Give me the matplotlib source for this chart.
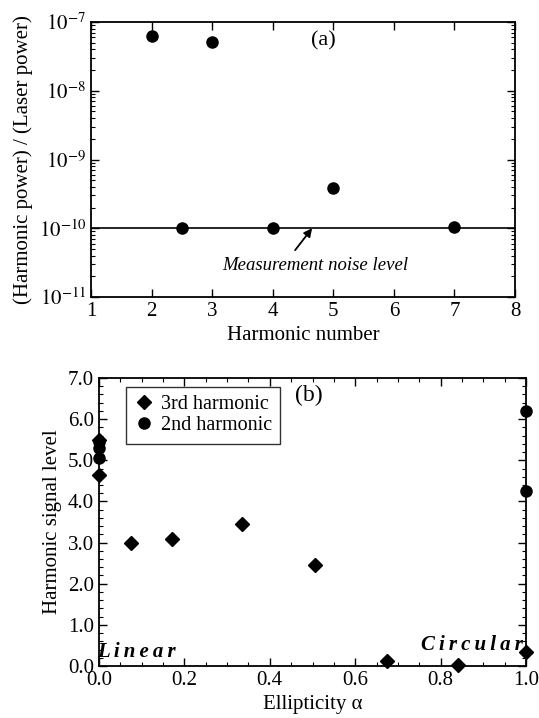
import matplotlib
matplotlib.use('Agg')
import matplotlib.pyplot as plt
from matplotlib.ticker import MultipleLocator, LogLocator, NullFormatter, FormatStrFormatter

plt.rcParams['font.family'] = ['Liberation Serif', 'DejaVu Serif']
plt.rcParams['mathtext.fontset'] = 'stix'

# panel (a): harmonic power ratio
harm_num = [2, 3, 2.5, 4, 5, 7]
harm_ratio = [6.3e-8, 5.2e-8, 1.0e-10, 1.0e-10, 3.8e-10, 1.05e-10]
noise_level = 1.0e-10

# panel (b): signal level vs ellipticity
ell_3rd = [0.0, 0.0, 0.075, 0.17, 0.335, 0.505, 0.675, 0.84, 1.0]
sig_3rd = [4.65, 5.5, 3.0, 3.08, 3.45, 2.45, 0.12, 0.02, 0.33]
ell_2nd = [0.0, 0.0, 0.0, 1.0, 1.0]
sig_2nd = [5.05, 5.3, 5.45, 6.2, 4.25]

fig = plt.figure(figsize=(5.39, 7.18), dpi=100)
W, H = 539, 718

# ---- (a)
ax = fig.add_axes([91 / W, 1 - 297 / H, (515 - 91) / W, (297 - 22) / H])
ax.set_yscale('log')
ax.set_xlim(1, 8)
ax.set_ylim(1e-11, 1e-7)
ax.axhline(noise_level, color='black', lw=1.2)
ax.plot(harm_num, harm_ratio, 'o', color='black', ms=8)
ax.set_xticks(range(1, 9))
ax.set_yticks([1e-11, 1e-10, 1e-9, 1e-8, 1e-7])
ax.set_yticklabels([r'$10^{-11}$', r'$10^{-10}$', r'$10^{-9}$', r'$10^{-8}$', r'$10^{-7}$'])
ax.yaxis.set_minor_locator(LogLocator(base=10, subs=range(2, 10), numticks=20))
ax.yaxis.set_minor_formatter(NullFormatter())
ax.tick_params(which='both', direction='in', top=True, right=True, labelsize=15)
ax.tick_params(which='major', length=6, width=1)
ax.tick_params(which='minor', length=3, width=0.8)
ax.set_xlabel('Harmonic number', fontsize=15)
ax.set_ylabel('(Harmonic power) / (Laser power)', fontsize=15)
ax.text(0.52, 0.965, '(a)', transform=ax.transAxes, fontsize=16, va='top')
ax.annotate('', xy=(4.65, 1.0e-10), xytext=(4.37, 4.8e-11),
            arrowprops=dict(arrowstyle='-|>', color='black', lw=1.3, mutation_scale=12,
                            shrinkA=0, shrinkB=0))
ax.text(4.71, 2.9e-11, 'Measurement noise level', fontsize=13.5, style='italic',
        ha='center', va='center')
for s in ax.spines.values():
    s.set_linewidth(1.3)

# ---- (b)
bx = fig.add_axes([99 / W, 1 - 666 / H, (526 - 99) / W, (666 - 378) / H])
bx.set_xlim(0, 1.0)
bx.set_ylim(0, 7.0)
bx.plot(ell_3rd, sig_3rd, 'D', color='black', ms=7, label='3rd harmonic', clip_on=False)
bx.plot(ell_2nd, sig_2nd, 'o', color='black', ms=8, label='2nd harmonic', clip_on=False)
bx.xaxis.set_major_locator(MultipleLocator(0.2))
bx.xaxis.set_minor_locator(MultipleLocator(0.05))
bx.yaxis.set_major_locator(MultipleLocator(1.0))
bx.yaxis.set_minor_locator(MultipleLocator(0.2))
bx.xaxis.set_major_formatter(FormatStrFormatter('%.1f'))
bx.yaxis.set_major_formatter(FormatStrFormatter('%.1f'))
bx.tick_params(which='both', direction='in', top=True, right=True, labelsize=15)
bx.tick_params(which='major', length=6, width=1)
bx.tick_params(which='minor', length=3, width=0.8)
bx.set_xlabel('Ellipticity α', fontsize=15)
bx.set_ylabel('Harmonic signal level', fontsize=15)
leg = bx.legend(loc='upper left', bbox_to_anchor=(0.063, 0.968), fontsize=14.5, frameon=True,
                fancybox=False, edgecolor='black', handletextpad=0.35, handlelength=1.0,
                borderpad=0.4, labelspacing=0.1, borderaxespad=0)
leg.get_frame().set_linewidth(1.0)
bx.text(0.46, 0.975, '(b)', transform=bx.transAxes, fontsize=17, va='top')
sp = '\u2009'
bx.text(-0.005, 0.23, sp.join('Linear'), fontsize=15, style='italic', weight='bold',
        va='baseline', family=['Liberation Serif', 'DejaVu Serif'])
bx.text(0.993, 0.38, sp.join('Circular'), fontsize=15, style='italic', weight='bold',
        va='baseline', ha='right', family=['Liberation Serif', 'DejaVu Serif'])
for s in bx.spines.values():
    s.set_linewidth(1.3)

fig.savefig('out.png', dpi=100)
